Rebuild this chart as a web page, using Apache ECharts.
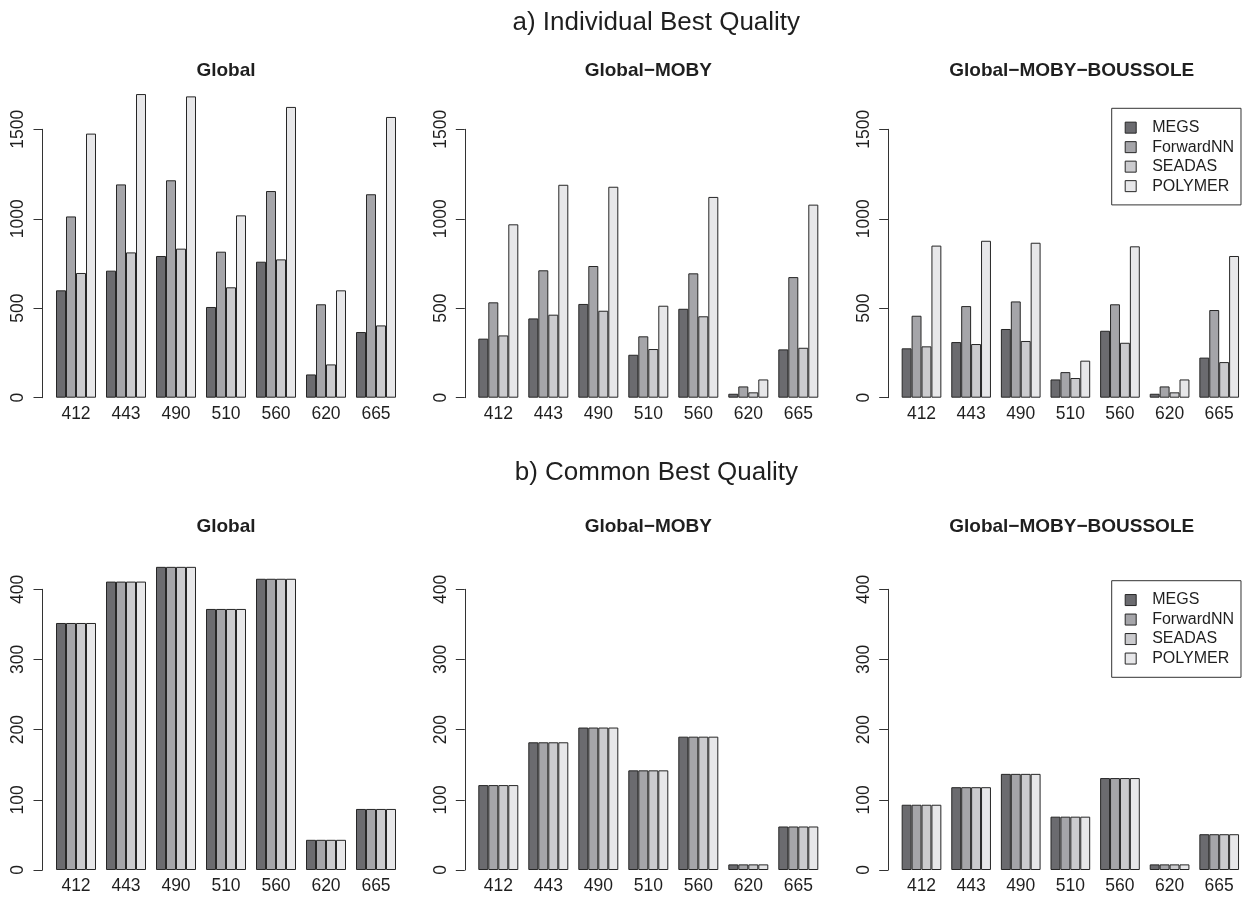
<!DOCTYPE html>
<html>
<head>
<meta charset="utf-8">
<script src="https://cdn.jsdelivr.net/npm/echarts@6/dist/echarts.min.js"></script>
<style>
  html, body { margin: 0; padding: 0; background: #ffffff; }
  #chart { width: 1244px; height: 897px; }
</style>
</head>
<body>
<div id="chart"></div>
<script>
// Wavelength bands (nm) and processors
const wavelengths = ['412', '443', '490', '510', '560', '620', '665'];
const methods = ['MEGS', 'ForwardNN', 'SEADAS', 'POLYMER'];

// a) Individual best quality counts, one array per processor
const indivGlobalMEGS      = [600, 710, 792, 507, 760, 130, 367];
const indivGlobalForwardNN = [1013, 1192, 1215, 816, 1155, 522, 1137];
const indivGlobalSEADAS    = [697, 812, 833, 617, 773, 186, 404];
const indivGlobalPOLYMER   = [1476, 1697, 1684, 1019, 1625, 600, 1569];

const indivMobyMEGS      = [330, 443, 524, 240, 497, 22, 270];
const indivMobyForwardNN = [533, 712, 736, 343, 695, 63, 674];
const indivMobySEADAS    = [348, 464, 486, 272, 455, 30, 279];
const indivMobyPOLYMER   = [969, 1190, 1179, 514, 1122, 102, 1079];

const indivBoussoleMEGS      = [276, 311, 384, 102, 374, 22, 224];
const indivBoussoleForwardNN = [458, 512, 538, 143, 522, 63, 490];
const indivBoussoleSEADAS    = [287, 300, 317, 110, 307, 30, 199];
const indivBoussolePOLYMER   = [850, 877, 866, 207, 846, 102, 792];

// b) Common best quality counts (identical for all processors)
const commonGlobal   = [352, 411, 432, 372, 415, 43, 87];
const commonMoby     = [121, 182, 203, 142, 190, 8, 62];
const commonBoussole = [93, 118, 137, 76, 131, 8, 51];

// Axis ticks
const indivTicks = { min: 0, max: 1500, interval: 500 };
const commonTicks = { min: 0, max: 400, interval: 100 };

const panelTitles = ['Global', 'Global\u2212MOBY', 'Global\u2212MOBY\u2212BOUSSOLE'];
const fillColors = ['#6b6b6f', '#a5a5a9', '#cbcbce', '#e7e7e9'];

const panels = [
  { data: [indivGlobalMEGS, indivGlobalForwardNN, indivGlobalSEADAS, indivGlobalPOLYMER], ticks: indivTicks },
  { data: [indivMobyMEGS, indivMobyForwardNN, indivMobySEADAS, indivMobyPOLYMER], ticks: indivTicks },
  { data: [indivBoussoleMEGS, indivBoussoleForwardNN, indivBoussoleSEADAS, indivBoussolePOLYMER], ticks: indivTicks },
  { data: [commonGlobal, commonGlobal, commonGlobal, commonGlobal], ticks: commonTicks },
  { data: [commonMoby, commonMoby, commonMoby, commonMoby], ticks: commonTicks },
  { data: [commonBoussole, commonBoussole, commonBoussole, commonBoussole], ticks: commonTicks }
];

// Layout of the 2 x 3 panel grid
const colLeft = [51, 473.3, 896.7];
const colWidth = 350;
const rowTop = [129.3, 589.3];
const rowHeight = [268.4, 280.7];
const panelTitleY = [70.5, 526.5];
const headerY = [22.8, 472.5];
const headers = ['a) Individual Best Quality', 'b) Common Best Quality'];

const FONT = '"Liberation Sans", Arial, Helvetica, sans-serif';
const INK = '#1f1f1f';

const grids = [], xAxes = [], yAxes = [], series = [], graphics = [];

panels.forEach((p, i) => {
  const row = Math.floor(i / 3), col = i % 3;
  grids.push({
    left: colLeft[col], top: rowTop[row], width: colWidth, height: rowHeight[row],
    containLabel: false
  });
  xAxes.push({
    type: 'category', gridIndex: i, data: wavelengths,
    axisLine: { show: false }, axisTick: { show: false },
    axisLabel: { color: INK, fontFamily: FONT, fontSize: 17.5, margin: 7, interval: 0 },
    splitLine: { show: false }
  });
  yAxes.push({
    type: 'value', gridIndex: i,
    min: p.ticks.min, max: p.ticks.max, interval: p.ticks.interval,
    offset: 8.5,
    axisLine: { show: true, lineStyle: { color: '#333333', width: 1 } },
    axisTick: { show: true, length: 9, lineStyle: { color: '#333333', width: 1 } },
    axisLabel: {
      color: INK, fontFamily: FONT, fontSize: 17.5, rotate: 90, margin: 15,
      formatter: v => String(v)
    },
    splitLine: { show: false }
  });
  p.data.forEach((vals, m) => {
    series.push({
      type: 'bar', name: methods[m], xAxisIndex: i, yAxisIndex: i,
      data: vals, clip: false, silent: true,
      barGap: '0%', barCategoryGap: '20%',
      itemStyle: { color: fillColors[m], borderColor: '#262626', borderWidth: 1 }
    });
  });
  graphics.push({
    type: 'text', x: colLeft[col] + colWidth / 2, y: panelTitleY[row],
    style: {
      text: panelTitles[col], font: 'bold 19px ' + FONT, fill: INK,
      textAlign: 'center', textVerticalAlign: 'middle'
    }
  });
});

headers.forEach((h, r) => {
  graphics.push({
    type: 'text', x: 656.3, y: headerY[r],
    style: {
      text: h, font: '26px ' + FONT, fill: INK,
      textAlign: 'center', textVerticalAlign: 'middle'
    }
  });
});

const legendBase = {
  orient: 'vertical', left: 1111.7,
  data: methods, icon: 'rect', itemWidth: 11, itemHeight: 11, itemGap: 0,
  padding: [9.6, 7, 9, 13],
  borderColor: '#333333', borderWidth: 1, backgroundColor: '#ffffff',
  selectedMode: false,
  itemStyle: { borderColor: '#262626', borderWidth: 1 },
  textStyle: { color: INK, fontFamily: FONT, fontSize: 16, lineHeight: 19.5, padding: [0, 0, 0, 11] }
};

const chart = echarts.init(document.getElementById('chart'), null, { renderer: 'canvas' });
chart.setOption({
  animation: false,
  backgroundColor: '#ffffff',
  grid: grids,
  xAxis: xAxes,
  yAxis: yAxes,
  legend: [
    Object.assign({}, legendBase, { top: 108.3 }),
    Object.assign({}, legendBase, { top: 580.7 })
  ],
  series: series,
  graphic: graphics
});
</script>
</body>
</html>
